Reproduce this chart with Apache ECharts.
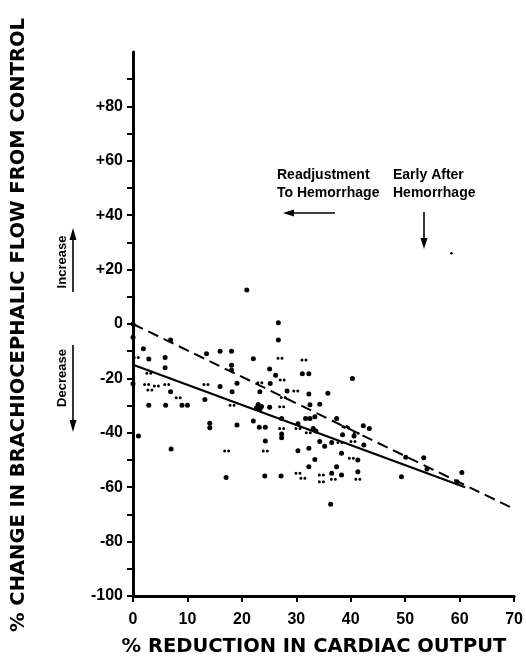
<!DOCTYPE html>
<html>
<head>
<meta charset="utf-8">
<script src="https://cdn.jsdelivr.net/npm/echarts@6/dist/echarts.min.js"></script>
<style>
html,body{margin:0;padding:0;background:#fff;}
#chart{width:526px;height:662px;}
</style>
</head>
<body>
<div id="chart"></div>
<script>
// ---- data ----
var xTickValues = [0, 10, 20, 30, 40, 50, 60, 70];
var yTickLabels = ['+80', '+60', '+40', '+20', '0', '-20', '-40', '-60', '-80', '-100'];

// single (large) dots: [% reduction in cardiac output, % change in flow]
var singleDots = [
  [0, 0], [0, -4.9], [6.9, -5.9], [1.9, -9.1], [2.9, -12.9], [5.9, -12.3], [5.9, -16.1],
  [13.5, -10.9], [16, -10], [18.1, -10], [18.1, -15.2], [18.1, -16.9], [20.9, 12.5],
  [26.7, 0.5], [26.7, -5.9], [22.1, -12.8], [25.1, -16.5], [26.2, -18.8], [31.1, -18.3],
  [32.3, -18.3], [40.3, -20], [25.2, -21.9], [19.1, -21.8], [16, -23], [0, -22], [6.9, -24.9],
  [2.9, -29.9], [6.0, -29.9], [9.0, -29.9], [10.0, -29.9], [13.2, -27.8], [18.2, -24.9],
  [14.1, -36.5], [14.1, -38.1], [19.1, -37.1], [22.1, -35.7], [23.2, -38], [24.3, -38],
  [24.3, -43], [1, -41.2], [7, -46], [23.3, -24.9], [28.3, -24.6], [32.3, -25.7],
  [35.8, -25.5], [32.5, -29.7], [34.3, -29.5], [23.0, -29.6], [23.6, -30.3], [23.3, -31.3],
  [22.7, -30.8], [25.1, -30.6], [27.3, -34.7], [27.3, -40.4], [27.3, -41.8], [30.3, -36.7],
  [31.7, -34.7], [32.5, -34.7], [33.4, -34.1], [33.1, -38.4], [33.6, -39.3], [37.4, -34.7],
  [38.5, -40.7], [40.6, -41.2], [42.3, -37.4], [43.4, -38.4], [42.4, -44.5], [34.3, -43.2],
  [35.2, -44.9], [36.5, -43.6], [30.3, -46.6], [32.3, -45.7], [38.3, -47.5], [41.3, -50],
  [33.4, -49.8], [32.3, -52.5], [37.4, -52.5], [41.3, -54.3], [24.2, -55.9], [27.2, -55.9],
  [36.5, -54.9], [38.3, -55.5], [36.3, -66.3], [17.1, -56.4], [49.3, -56.2], [53.4, -49.2],
  [60.4, -54.6], [50.1, -49], [54, -53.3], [59.5, -58]
];
// stray faint dot near the "Early After Hemorrhage" arrow
var strayDots = [[58.5, 26]];

// paired small dots
var pairedDots = [
  [0.6, -12.3], [27, -12.6], [31.4, -13.2], [27.4, -20.6], [13.4, -22.2], [2.5, -22.2],
  [4.3, -22.8], [3.1, -24.3], [6.2, -22.2], [8.3, -27.1], [18.2, -29.9], [23.3, -21.6],
  [29.9, -24.6], [27.6, -27], [27.3, -30.4], [27.3, -38.4], [30.3, -38.4], [39.2, -38],
  [41, -40.2], [32.2, -40], [40.4, -43.2], [24.3, -46.7], [17.2, -46.7], [38, -43.6],
  [40.1, -49.4], [30.3, -54.9], [31.2, -56.7], [34.6, -55.5], [34.6, -58], [36.8, -57.1],
  [41.3, -57.1], [2.9, -18.1], [38.9, -37.7]
];

// regression lines
var dashedLine = [[0, 0], [70, -68]];
var solidLine = [[0, -15], [61, -60]];

var FONT = '"Liberation Sans", Arial, sans-serif';
var TITLE_FONT = '"DejaVu Sans", "Liberation Sans", sans-serif';
var INK = '#000';

var chart = echarts.init(document.getElementById('chart'), null, {renderer: 'canvas'});

var pairPath = 'path://M1.5,0A1.5,1.5,0,1,1,1.5,3A1.5,1.5,0,1,1,1.5,0ZM5.5,0A1.5,1.5,0,1,1,5.5,3A1.5,1.5,0,1,1,5.5,0Z';

var option = {
  backgroundColor: '#fff',
  animation: false,
  grid: {left: 133, right: 10, top: 52, bottom: 66, containLabel: false},
  xAxis: {
    type: 'value', min: 0, max: 70, interval: 10,
    splitLine: {show: false},
    axisLine: {show: true, onZero: false, lineStyle: {color: INK, width: 3}},
    axisTick: {show: true, inside: false, length: 6, lineStyle: {color: INK, width: 2}},
    axisLabel: {
      margin: 16, color: INK, fontFamily: FONT, fontWeight: 'bold', fontSize: 16,
      formatter: function (v) { return xTickValues.indexOf(v) >= 0 ? String(v) : ''; }
    }
  },
  yAxis: {
    type: 'value', min: -100, max: 100, interval: 10,
    splitLine: {show: false},
    axisLine: {show: true, onZero: false, lineStyle: {color: INK, width: 3}},
    axisTick: {show: true, inside: false, length: 6, lineStyle: {color: INK, width: 2}},
    axisLabel: {
      margin: 10, color: INK, fontFamily: FONT, fontWeight: 'bold', fontSize: 16,
      showMaxLabel: false,
      formatter: function (v) {
        var s = v > 0 ? '+' + v : String(v);
        return yTickLabels.indexOf(s) >= 0 ? s : '';
      }
    }
  },
  series: [
    {
      type: 'line', data: dashedLine, showSymbol: false, symbol: 'none',
      lineStyle: {color: INK, width: 2, type: [11, 6]}, z: 3
    },
    {
      type: 'line', data: solidLine, showSymbol: false, symbol: 'none',
      lineStyle: {color: INK, width: 2.2}, z: 3
    },
    {
      type: 'scatter', data: singleDots, symbol: 'circle', symbolSize: 5,
      itemStyle: {color: INK, opacity: 1}, z: 4
    },
    {
      type: 'scatter', data: strayDots, symbol: 'circle', symbolSize: 2.5,
      itemStyle: {color: INK, opacity: 1}, z: 4
    },
    {
      type: 'scatter', data: pairedDots, symbol: pairPath, symbolSize: [7, 3],
      itemStyle: {color: INK, opacity: 1}, z: 4
    }
  ],
  graphic: [
    // Y-axis title
    {type: 'text', x: 19, y: 325, rotation: Math.PI / 2,
     style: {text: '% CHANGE IN BRACHIOCEPHALIC FLOW FROM CONTROL', fill: INK,
             font: 'bold 19.5px ' + TITLE_FONT, textAlign: 'center', textVerticalAlign: 'middle'}},
    // X-axis title
    {type: 'text', x: 314, y: 647,
     style: {text: '% REDUCTION IN CARDIAC OUTPUT', fill: INK,
             font: 'bold 19.5px ' + TITLE_FONT, textAlign: 'center', textVerticalAlign: 'middle'}},
    // Increase / Decrease
    {type: 'text', x: 62, y: 262, rotation: Math.PI / 2,
     style: {text: 'Increase', fill: INK, font: 'bold 13px ' + FONT, textAlign: 'center', textVerticalAlign: 'middle'}},
    {type: 'line', shape: {x1: 73, y1: 292, x2: 73, y2: 238}, style: {stroke: INK, lineWidth: 1.6}},
    {type: 'polygon', shape: {points: [[73, 228], [69.5, 240], [76.5, 240]]}, style: {fill: INK}},
    {type: 'text', x: 62, y: 378, rotation: Math.PI / 2,
     style: {text: 'Decrease', fill: INK, font: 'bold 13px ' + FONT, textAlign: 'center', textVerticalAlign: 'middle'}},
    {type: 'line', shape: {x1: 73, y1: 345, x2: 73, y2: 422}, style: {stroke: INK, lineWidth: 1.6}},
    {type: 'polygon', shape: {points: [[73, 432], [69.5, 420], [76.5, 420]]}, style: {fill: INK}},
    // in-plot annotations
    {type: 'text', x: 277, y: 175,
     style: {text: 'Readjustment', fill: INK, font: 'bold 14px ' + FONT, textAlign: 'left', textVerticalAlign: 'middle'}},
    {type: 'text', x: 277, y: 193,
     style: {text: 'To Hemorrhage', fill: INK, font: 'bold 14px ' + FONT, textAlign: 'left', textVerticalAlign: 'middle'}},
    {type: 'text', x: 393, y: 175,
     style: {text: 'Early After', fill: INK, font: 'bold 14px ' + FONT, textAlign: 'left', textVerticalAlign: 'middle'}},
    {type: 'text', x: 393, y: 193,
     style: {text: 'Hemorrhage', fill: INK, font: 'bold 14px ' + FONT, textAlign: 'left', textVerticalAlign: 'middle'}},
    {type: 'line', shape: {x1: 292, y1: 213, x2: 335, y2: 213}, style: {stroke: INK, lineWidth: 1.6}},
    {type: 'polygon', shape: {points: [[283, 213], [294, 209.5], [294, 216.5]]}, style: {fill: INK}},
    {type: 'line', shape: {x1: 424, y1: 212, x2: 424, y2: 240}, style: {stroke: INK, lineWidth: 1.6}},
    {type: 'polygon', shape: {points: [[424, 249], [420.5, 238], [427.5, 238]]}, style: {fill: INK}}
  ]
};
chart.setOption(option);
</script>
</body>
</html>
